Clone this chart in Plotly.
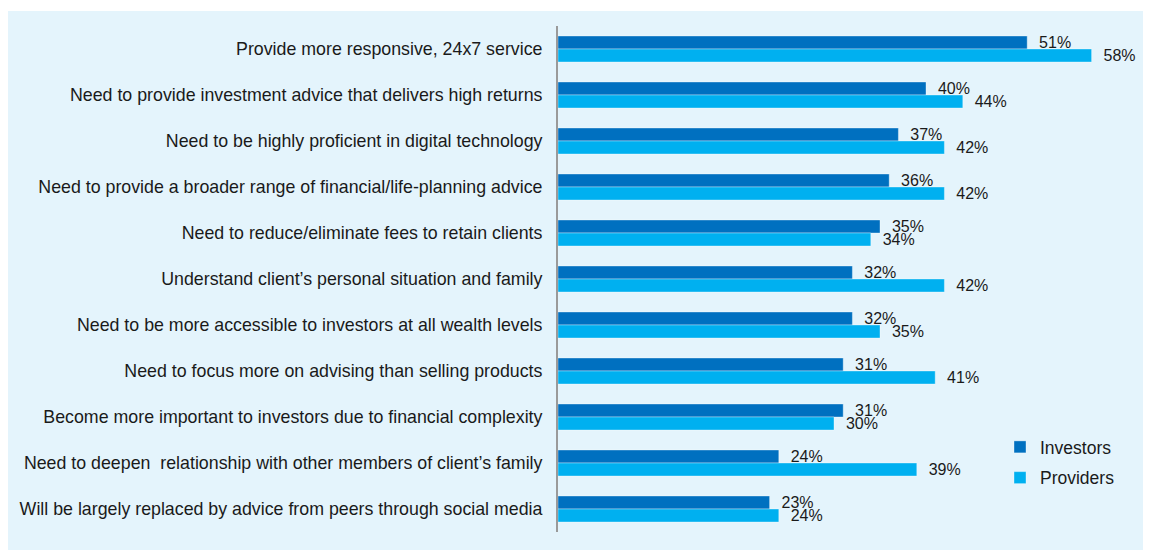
import plotly.graph_objects as go

# ---------------------------------------------------------------------------
# Data
# ---------------------------------------------------------------------------
CATEGORIES = [
    "Provide more responsive, 24x7 service",
    "Need to provide investment advice that delivers high returns",
    "Need to be highly proficient in digital technology",
    "Need to provide a broader range of financial/life-planning advice",
    "Need to reduce/eliminate fees to retain clients",
    "Understand client\u2019s personal situation and family",
    "Need to be more accessible to investors at all wealth levels",
    "Need to focus more on advising than selling products",
    "Become more important to investors due to financial complexity",
    "Need to deepen  relationship with other members of client\u2019s family",
    "Will be largely replaced by advice from peers through social media",
]
INVESTORS = [51, 40, 37, 36, 35, 32, 32, 31, 31, 24, 23]
PROVIDERS = [58, 44, 42, 42, 34, 42, 35, 41, 30, 39, 24]

INVESTOR_COLOR = "#0070c0"
PROVIDER_COLOR = "#00b0f0"
PANEL_COLOR = "#e4f4fc"
FONT = "Liberation Sans, Arial, sans-serif"

# figure sits 8px in from the page corner (body margin)
FIG_W, FIG_H = 1143, 542
L, R, T, B = 550, 41, 18, 18
W = FIG_W - L - R
H = FIG_H - T - B


def px_x(x):
    return (x - L) / W


def px_y(y):
    return (FIG_H - B - y) / H


fig = go.Figure()
for name, vals, color, grp in [
    ("Investors", INVESTORS, INVESTOR_COLOR, "a"),
    ("Providers", PROVIDERS, PROVIDER_COLOR, "b"),
]:
    fig.add_trace(go.Bar(
        name=name,
        x=vals,
        y=CATEGORIES,
        orientation="h",
        legendgroup=grp,
        marker=dict(color=color, line=dict(color="rgba(255,255,255,0.35)", width=1)),
        text=[f"  {v}%" for v in vals],
        textposition="outside",
        constraintext="none",
        textfont=dict(size=16, color="#1a1a1a", family=FONT),
        cliponaxis=False,
        hovertemplate="%{y}<br>" + name + ": %{x}%<extra></extra>",
    ))

# light blue panel behind everything
fig.add_shape(
    type="rect", xref="paper", yref="paper", layer="below",
    x0=px_x(-5), x1=px_x(FIG_W + 5), y0=px_y(FIG_H + 5), y1=px_y(3),
    fillcolor=PANEL_COLOR, line=dict(width=0),
)

fig.update_layout(
    width=FIG_W,
    height=FIG_H,
    barmode="group",
    bargap=0.435,
    bargroupgap=0,
    margin=dict(l=L, r=R, t=T, b=B),
    paper_bgcolor="white",
    plot_bgcolor="rgba(0,0,0,0)",
    font=dict(family=FONT, size=17.5, color="#1a1a1a"),
    legend=dict(
        x=px_x(992), y=px_y(421), xanchor="left", yanchor="top",
        bgcolor="rgba(0,0,0,0)",
        font=dict(size=17.5, color="#1a1a1a"),
        tracegroupgap=5,
        itemwidth=30,
    ),
    showlegend=True,
)
fig.update_xaxes(range=[0, 60], visible=False, showgrid=False, zeroline=False)
fig.update_yaxes(
    autorange="reversed",
    showline=True, linecolor="#9a9a9a", linewidth=2,
    showgrid=False, zeroline=False,
    ticks="", ticklabelstandoff=10,
    tickfont=dict(size=17.8, color="#1a1a1a"),
)

fig.write_html("out.html")
